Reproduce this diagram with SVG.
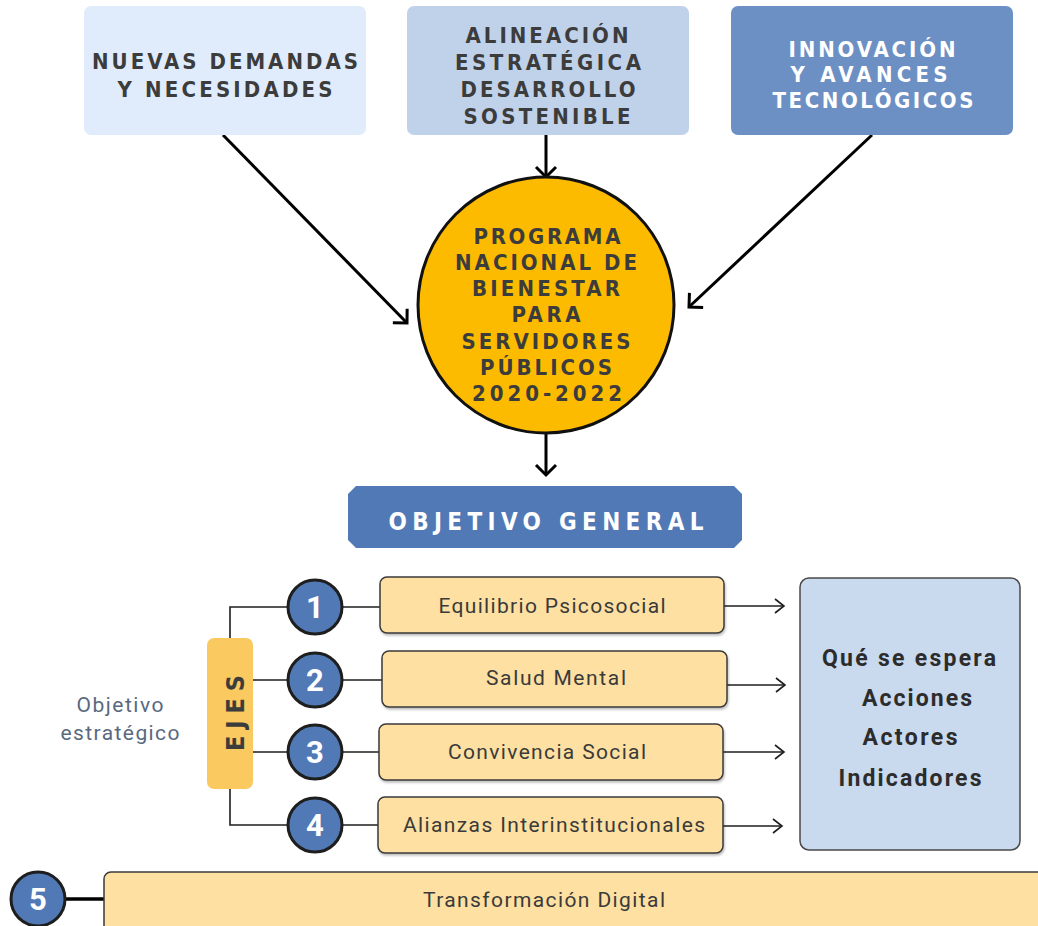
<svg xmlns="http://www.w3.org/2000/svg" width="1038" height="926" viewBox="0 0 1038 926">
<style>
.ttl{font-family:"DejaVu Sans Condensed","DejaVu Sans",sans-serif;font-stretch:condensed;font-weight:bold;font-size:22px;text-anchor:middle;fill:#3c3c3c}
.wt{fill:#ffffff}
.lbl{font-family:Roboto,"Noto Sans",sans-serif;font-size:21px;text-anchor:middle;fill:#3a3a3a}
.obj{fill:#59697e}
.bold{font-family:Roboto,"Noto Sans",sans-serif;font-weight:bold;font-size:23px;text-anchor:middle;fill:#2c2c2c}
.num{font-family:Roboto,"Noto Sans",sans-serif;font-weight:bold;font-size:31px;text-anchor:middle;fill:#ffffff}
.ax{fill:#fde0a2;stroke:#3a3a3a;stroke-width:1.5}
.nc{fill:#5179b6;stroke:#1e1e1e;stroke-width:3}
.thick{stroke:#000;stroke-width:3;fill:none}
.thin{stroke:#1e1e1e;stroke-width:1.6;fill:none}
</style>
<defs>
<marker id="ah" markerUnits="userSpaceOnUse" viewBox="-12 -12 14 24" refX="0" refY="0" markerWidth="14" markerHeight="24" orient="auto" overflow="visible">
<path d="M -10 -10 L 0 0 L -10 10" fill="none" stroke="#000" stroke-width="3"/>
</marker>
<marker id="as" markerUnits="userSpaceOnUse" viewBox="-10 -8 12 16" refX="0" refY="0" markerWidth="12" markerHeight="16" orient="auto" overflow="visible">
<path d="M -9 -7 L 0 0 L -9 7" fill="none" stroke="#1e1e1e" stroke-width="1.6"/>
</marker>
<filter id="sh" x="-5%" y="-10%" width="110%" height="130%">
<feDropShadow dx="1" dy="2" stdDeviation="1" flood-color="#000" flood-opacity="0.25"/>
</filter>
</defs>
<rect width="1038" height="926" fill="#ffffff"/>

<g id="connectors">
<line class="thick" x1="223" y1="135" x2="407" y2="323" marker-end="url(#ah)"/>
<line class="thick" x1="546" y1="135" x2="546" y2="177" marker-end="url(#ah)"/>
<line class="thick" x1="872" y1="135" x2="689" y2="307" marker-end="url(#ah)"/>
<line class="thick" x1="546" y1="434" x2="546" y2="475" marker-end="url(#ah)"/>
<polyline class="thin" points="290,607 230,607 230,638"/>
<polyline class="thin" points="230,789 230,825 290,825"/>
<line class="thin" x1="253" y1="680" x2="290" y2="680"/>
<line class="thin" x1="253" y1="752" x2="290" y2="752"/>
<line class="thin" x1="342" y1="607" x2="380" y2="607"/>
<line class="thin" x1="342" y1="680" x2="382" y2="680"/>
<line class="thin" x1="342" y1="752" x2="379" y2="752"/>
<line class="thin" x1="342" y1="825" x2="378" y2="825"/>
<line x1="64" y1="899" x2="104" y2="899" stroke="#000" stroke-width="3.5"/>
<line class="thin" x1="724" y1="606" x2="784" y2="606" marker-end="url(#as)"/>
<line class="thin" x1="727" y1="685" x2="785" y2="685" marker-end="url(#as)"/>
<line class="thin" x1="723" y1="752" x2="784" y2="752" marker-end="url(#as)"/>
<line class="thin" x1="723" y1="826" x2="782" y2="826" marker-end="url(#as)"/>
</g>

<g id="n-demandas">
<rect x="84" y="6" width="282" height="129" rx="7" fill="#e0ecfb"/>
<text class="ttl" x="225" y="69" textLength="266" lengthAdjust="spacing">NUEVAS DEMANDAS</text>
<text class="ttl" x="225" y="97" textLength="215" lengthAdjust="spacing">Y NECESIDADES</text>
</g>

<g id="n-alineacion">
<rect x="407" y="6" width="282" height="129" rx="7" fill="#c0d2ea"/>
<text class="ttl" x="547" y="43" textLength="163" lengthAdjust="spacing">ALINEACIÓN</text>
<text class="ttl" x="548" y="70" textLength="186" lengthAdjust="spacing">ESTRATÉGICA</text>
<text class="ttl" x="548" y="97" textLength="175" lengthAdjust="spacing">DESARROLLO</text>
<text class="ttl" x="547" y="124" textLength="167" lengthAdjust="spacing">SOSTENIBLE</text>
</g>

<g id="n-innovacion">
<rect x="731" y="6" width="282" height="129" rx="7" fill="#6d90c4"/>
<text class="ttl wt" x="872" y="57" textLength="167" lengthAdjust="spacing">INNOVACIÓN</text>
<text class="ttl wt" x="869" y="82" textLength="157" lengthAdjust="spacing">Y AVANCES</text>
<text class="ttl wt" x="873" y="108" textLength="201" lengthAdjust="spacing">TECNOLÓGICOS</text>
</g>

<g id="n-programa">
<circle cx="546" cy="305" r="128" fill="#fdbb00" stroke="#111" stroke-width="3"/>
<text class="ttl" x="547" y="244" textLength="147" lengthAdjust="spacing">PROGRAMA</text>
<text class="ttl" x="546" y="270" textLength="182" lengthAdjust="spacing">NACIONAL DE</text>
<text class="ttl" x="546" y="296" textLength="148" lengthAdjust="spacing">BIENESTAR</text>
<text class="ttl" x="546" y="322" textLength="69" lengthAdjust="spacing">PARA</text>
<text class="ttl" x="546" y="349" textLength="169" lengthAdjust="spacing">SERVIDORES</text>
<text class="ttl" x="546" y="375" textLength="132" lengthAdjust="spacing">PÚBLICOS</text>
<text class="ttl" x="547" y="401" textLength="150" lengthAdjust="spacing">2020-2022</text>
</g>

<g id="n-objetivo-general">
<polygon points="356,486 734,486 742,494 742,540 734,548 356,548 348,540 348,494" fill="#5179b6"/>
<text class="ttl wt" x="546" y="530" style="font-size:24px" textLength="315" lengthAdjust="spacing">OBJETIVO GENERAL</text>
</g>

<g id="n-objetivo-estrategico">
<text class="lbl obj" x="120" y="712" textLength="87" lengthAdjust="spacing">Objetivo</text>
<text class="lbl obj" x="120" y="740" textLength="119" lengthAdjust="spacing">estratégico</text>
</g>

<g id="n-ejes">
<rect x="207" y="638" width="46" height="151" rx="7" fill="#fac95f"/>
<text class="ttl" x="0" y="0" style="font-size:25px" textLength="76" lengthAdjust="spacing" dominant-baseline="central" transform="translate(235,713) rotate(-90)">EJES</text>
</g>

<g id="n-eje1">
<circle class="nc" cx="315" cy="607" r="27"/>
<text class="num" x="315" y="618">1</text>
<rect class="ax" x="380" y="577" width="344" height="56" rx="7" filter="url(#sh)"/>
<text class="lbl" x="552" y="613" textLength="227" lengthAdjust="spacing">Equilibrio Psicosocial</text>
</g>

<g id="n-eje2">
<circle class="nc" cx="315" cy="680" r="27"/>
<text class="num" x="315" y="691">2</text>
<rect class="ax" x="382" y="651" width="345" height="56" rx="7" filter="url(#sh)"/>
<text class="lbl" x="556" y="685" textLength="140" lengthAdjust="spacing">Salud Mental</text>
</g>

<g id="n-eje3">
<circle class="nc" cx="315" cy="752" r="27"/>
<text class="num" x="315" y="763">3</text>
<rect class="ax" x="379" y="724" width="344" height="56" rx="7" filter="url(#sh)"/>
<text class="lbl" x="547" y="759" textLength="198" lengthAdjust="spacing">Convivencia Social</text>
</g>

<g id="n-eje4">
<circle class="nc" cx="315" cy="825" r="27"/>
<text class="num" x="315" y="836">4</text>
<rect class="ax" x="378" y="797" width="345" height="56" rx="7" filter="url(#sh)"/>
<text class="lbl" x="554" y="832" textLength="302" lengthAdjust="spacing">Alianzas Interinstitucionales</text>
</g>

<g id="n-eje5">
<circle class="nc" cx="38" cy="899" r="27"/>
<text class="num" x="38" y="910">5</text>
<rect class="ax" x="104" y="872" width="950" height="64" rx="7"/>
<text class="lbl" x="544" y="907" textLength="242" lengthAdjust="spacing">Transformación Digital</text>
</g>

<g id="n-que-se-espera">
<rect x="800" y="578" width="220" height="272" rx="9" fill="#c9d9ee" stroke="#4a4a4a" stroke-width="1.5"/>
<text class="bold" x="909" y="666" textLength="174" lengthAdjust="spacing">Qué se espera</text>
<text class="bold" x="917" y="706" textLength="110" lengthAdjust="spacing">Acciones</text>
<text class="bold" x="910" y="745" textLength="95" lengthAdjust="spacing">Actores</text>
<text class="bold" x="910" y="786" textLength="143" lengthAdjust="spacing">Indicadores</text>
</g>
</svg>
